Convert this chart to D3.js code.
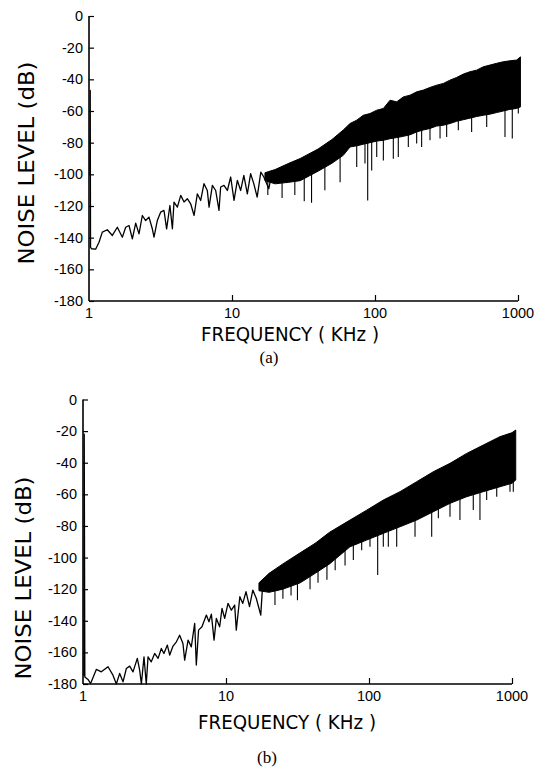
<!DOCTYPE html>
<html><head><meta charset="utf-8">
<script src="https://cdn.jsdelivr.net/npm/d3@7"></script>
<style>body{margin:0;background:#fff}svg{display:block}</style>
</head><body>
<svg id="c" width="551" height="770"></svg>
<script>
// ---------- shared axis data ----------
const freqTicks = [1, 10, 100, 1000];
const dbTicks = [0, -20, -40, -60, -80, -100, -120, -140, -160, -180];

// ---------- panel (a) ----------
const aTraceF = [1.015, 1.02, 1.025, 1.04, 1.113, 1.175, 1.239, 1.343, 1.456, 1.578, 1.711, 1.805, 1.905, 2.01, 2.121, 2.237, 2.36, 2.49, 2.627, 2.772, 2.848, 3.004, 3.17, 3.345, 3.49, 3.68, 3.83, 3.93, 4.15, 4.38, 4.62, 4.87, 5.14, 5.43, 5.72, 6.04, 6.37, 6.72, 6.91, 7.29, 7.69, 8.11, 8.33, 8.79, 9.28, 9.79, 10.33, 10.9, 11.5, 12.1, 12.8, 13.5, 14.2, 15.0, 15.9, 16.7, 18.1, 19.1];
const aTraceDb = [-100, -47, -146, -147, -147.3, -142.9, -136.5, -135, -138.6, -133.4, -139.7, -133.4, -132.3, -140.8, -130.8, -137.6, -126, -129.2, -127, -134.4, -139.7, -129.2, -123.9, -122.8, -134.4, -119.7, -134.4, -117.5, -120.7, -113.3, -117.5, -115.4, -118.6, -126, -112.3, -116.5, -105.9, -110.2, -120.7, -107, -110.2, -122.8, -108, -107, -110.2, -101.7, -116.5, -103.8, -110.2, -100.7, -112.3, -99.6, -105.9, -114.4, -98.6, -101.7, -109.1, -97.5];
const aBandF = [17, 20, 25, 30, 40, 50, 60, 66.9, 74.5, 82.8, 92.2, 102.8, 114.4, 127.4, 141.8, 157.8, 175.8, 195.7, 217.9, 242.6, 270, 300.6, 334.5, 372.4, 414.5, 461.4, 513.6, 571.6, 636.3, 708.3, 788.4, 877.5, 979, 1040];
const aBandUp = [-99, -97, -93, -90, -84, -78, -72, -67.9, -65.8, -62.7, -61.6, -59.5, -58.4, -53.2, -54.2, -51.1, -50, -47.9, -46.8, -45.1, -43.7, -42.6, -40.5, -38.8, -36.7, -35.2, -34.2, -32.1, -31, -29.9, -28.9, -28.3, -27.8, -25.8];
const aBandLo = [-104, -106, -105, -104, -98, -93, -88, -82.7, -82, -81, -80, -79, -78.5, -77.5, -76.8, -76, -75, -73.2, -72, -71, -69.5, -69, -67.9, -66.5, -65.5, -64.5, -63.5, -62.7, -62, -61, -60, -59, -58.4, -57.4];
const aSpikeF = [17.8, 22.4, 27.5, 32, 36, 44.6, 57, 74.5, 85.1, 88.9, 94.8, 102.8, 114.4, 134.3, 145.5, 171, 195.6, 211.9, 242.4, 285, 317, 382.5, 474, 604, 811, 912, 1005];
const aSpikeTop = [-100, -102, -101, -100, -98, -94, -88, -78, -78, -77, -77, -76, -75, -74, -73, -72, -70, -69, -68, -66, -65, -63, -62, -60, -57, -56, -55];
const aSpikeDb = [-113, -115, -113, -117, -118, -110, -105, -95.4, -93.2, -116.5, -97.5, -89, -91.2, -90.1, -89, -82.7, -80.6, -82.7, -78.5, -77.4, -76.4, -72.2, -73.2, -70.1, -76.4, -77.4, -61.6];

// ---------- panel (b) ----------
const bTraceF = [1.015, 1.02, 1.03, 1.084, 1.13, 1.239, 1.343, 1.496, 1.62, 1.711, 1.805, 1.905, 2.01, 2.121, 2.237, 2.398, 2.49, 2.56, 2.67, 2.77, 2.85, 3.0, 3.17, 3.35, 3.53, 3.68, 3.89, 4.04, 4.26, 4.5, 4.74, 5.0, 5.14, 5.43, 5.72, 6.04, 6.2, 6.43, 6.79, 7.29, 7.6, 7.9, 8.25, 8.56, 9.03, 9.38, 9.79, 10.33, 10.9, 11.5, 11.8, 12.5, 13.1, 13.8, 14.6, 15.4, 16.3, 17.5, 18.1, 19.1];
const bTraceDb = [-175, -22, -175.5, -177.1, -179.7, -170.8, -172.3, -169.1, -174.4, -180, -173.3, -178.6, -170.2, -168.7, -172.3, -163.8, -171.2, -180, -162.8, -180, -162.8, -166, -160.7, -163.8, -157.5, -160.7, -155.4, -161.7, -156, -153.3, -149.1, -154.4, -164.9, -152.2, -156.5, -141.7, -168, -145.9, -143.8, -136.4, -140.6, -135.8, -152.2, -138.5, -143.8, -132.2, -138.5, -129, -133.3, -130.1, -145.9, -124.8, -129, -121.6, -131.1, -120.6, -125.9, -136.4, -115.3, -118.5];
const bBandF = [17, 20, 25, 33, 42, 53, 73.6, 96.4, 126, 164.8, 215.5, 281.6, 368.5, 482, 630, 824, 1000, 1062];
const bBandUp = [-116, -110, -104, -97, -91, -84, -76.3, -70, -63.6, -58.3, -52, -45.7, -40.4, -34.1, -28.8, -23.5, -21, -19.3];
const bBandLo = [-121, -122, -120, -116, -110, -104, -93.2, -88.9, -84.7, -80.5, -76.3, -71, -65.7, -61.5, -58.3, -55.2, -53, -51];
const bSpikeF = [22, 25, 28.5, 31.6, 38.7, 44, 50.8, 58, 68, 77.7, 88.9, 101.6, 115, 125.9, 136.5, 156.2, 209.8, 274.4, 305.5, 368.5, 432.5, 536, 597, 665, 782, 968, 1021];
const bSpikeTop = [-118, -117, -115, -112, -108, -105, -102, -98, -92, -90, -87, -85, -82, -82, -80, -78, -74, -69, -67, -64, -62, -59, -58, -56, -54, -51, -50];
const bSpikeDb = [-130, -126, -124, -127, -120, -116, -114, -108, -105, -101.6, -95.3, -93.2, -111.1, -93.2, -93.2, -93.2, -86.8, -86.8, -75.2, -74.2, -76.3, -69.9, -76.3, -63.6, -61.5, -58.3, -58.3];

const svg = d3.select('#c');
const tickFont = '"Liberation Sans", Arial, sans-serif';
const titleFont = '"DejaVu Sans", "Liberation Sans", sans-serif';

function panel(cfg, d) {
  const x = d3.scaleLog().domain([1, 1000]).range([cfg.x0, cfg.x1]);
  const y = d3.scaleLinear().domain([-180, 0]).range([cfg.yB, cfg.yT]);
  const g = svg.append('g');

  const band = d.bandF.map((f, i) => ({f, up: d.bandUp[i], lo: d.bandLo[i]}));
  g.append('path').datum(band)
    .attr('d', d3.area().x(p => x(p.f)).y0(p => y(p.lo)).y1(p => y(p.up)))
    .attr('fill', '#000').attr('stroke', '#000').attr('stroke-width', 1);

  g.selectAll('line.sp').data(d.spikeF).join('line')
    .attr('x1', f => x(f)).attr('x2', f => x(f))
    .attr('y1', (f, i) => y(d.spikeTop[i])).attr('y2', (f, i) => y(d.spikeDb[i]))
    .attr('stroke', '#000').attr('stroke-width', 1.1);

  const tr = d.traceF.map((f, i) => [f, d.traceDb[i]]);
  g.append('path').datum(tr)
    .attr('d', d3.line().x(p => x(p[0])).y(p => y(p[1])))
    .attr('fill', 'none').attr('stroke', '#000').attr('stroke-width', 1.3)
    .attr('stroke-linejoin', 'round');

  const ax = g.append('g').attr('transform', `translate(${cfg.x0},0)`)
    .call(d3.axisRight(y).tickValues(dbTicks).tickSize(5).tickFormat(''));
  ax.select('.domain').attr('d', `M0,${cfg.yT}V${cfg.yB}`).attr('stroke-width', 1.6);
  ax.selectAll('.tick line').attr('stroke-width', 1.2);
  g.selectAll('text.yl').data(dbTicks).join('text')
    .attr('x', cfg.x0 - 6).attr('y', v => y(v))
    .attr('text-anchor', 'end').attr('dominant-baseline', 'central')
    .attr('font-family', tickFont).attr('font-size', 14.5)
    .text(v => String(v));

  const bx = g.append('g').attr('transform', `translate(0,${cfg.yB})`)
    .call(d3.axisTop(x).tickValues(freqTicks.slice(1)).tickSize(6).tickFormat(''));
  bx.select('.domain').attr('d', `M${cfg.x0},0H${cfg.x1}`).attr('stroke-width', 1.6);
  bx.selectAll('.tick line').attr('stroke-width', 1.2);
  g.selectAll('text.xl').data(freqTicks).join('text')
    .attr('x', f => x(f)).attr('y', cfg.yB + 12)
    .attr('text-anchor', 'middle').attr('dominant-baseline', 'central')
    .attr('font-family', tickFont).attr('font-size', 14.5)
    .text(f => String(f));

  g.append('text')
    .attr('transform', `translate(${cfg.ytX},${cfg.ytY}) rotate(-90)`)
    .attr('text-anchor', 'middle').attr('dominant-baseline', 'central')
    .attr('font-family', titleFont).attr('font-size', 21)
    .attr('textLength', 203).attr('lengthAdjust', 'spacingAndGlyphs')
    .text('NOISE LEVEL (dB)');
  g.append('text')
    .attr('x', cfg.xtX).attr('y', cfg.xtY)
    .attr('text-anchor', 'middle').attr('dominant-baseline', 'central')
    .attr('font-family', titleFont).attr('font-size', 19)
    .attr('textLength', 178).attr('lengthAdjust', 'spacingAndGlyphs')
    .text('FREQUENCY ( KHz )');
  g.append('text')
    .attr('x', cfg.capX).attr('y', cfg.capY)
    .attr('text-anchor', 'middle').attr('dominant-baseline', 'central')
    .attr('font-family', '"Liberation Serif", "Times New Roman", serif').attr('font-size', 17)
    .text(cfg.cap);
}

panel({x0: 89, x1: 518, yT: 16, yB: 301, ytX: 27, ytY: 163, xtX: 290, xtY: 334, capX: 269, capY: 357, cap: '(a)'},
  {traceF: aTraceF, traceDb: aTraceDb, bandF: aBandF, bandUp: aBandUp, bandLo: aBandLo, spikeF: aSpikeF, spikeTop: aSpikeTop, spikeDb: aSpikeDb});
panel({x0: 83, x1: 512, yT: 399.5, yB: 684, ytX: 24, ytY: 578, xtX: 287, xtY: 722, capX: 267, capY: 757, cap: '(b)'},
  {traceF: bTraceF, traceDb: bTraceDb, bandF: bBandF, bandUp: bBandUp, bandLo: bBandLo, spikeF: bSpikeF, spikeTop: bSpikeTop, spikeDb: bSpikeDb});
</script>
</body></html>
